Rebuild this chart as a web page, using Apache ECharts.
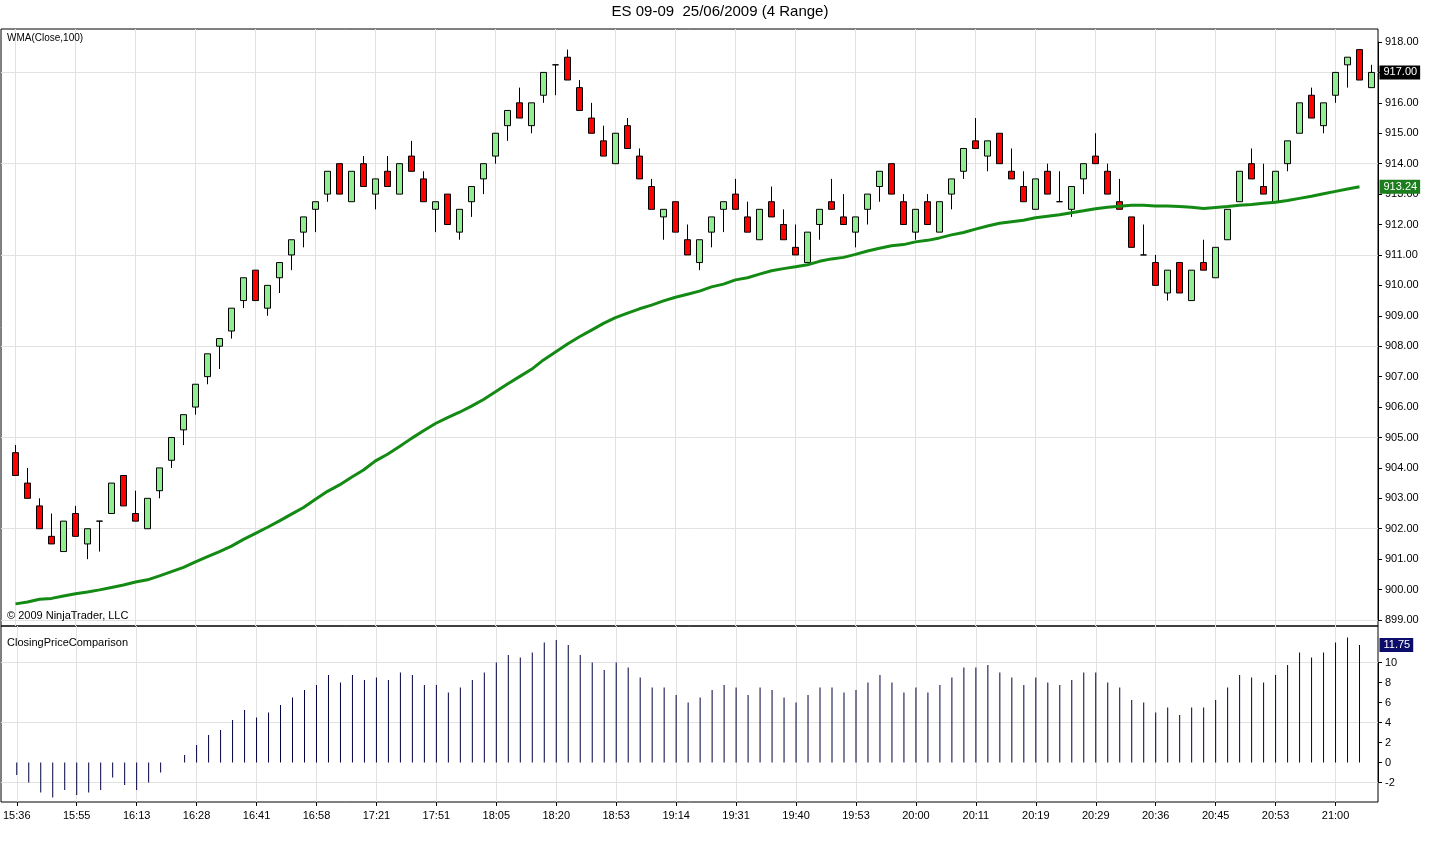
<!DOCTYPE html>
<html>
<head>
<meta charset="utf-8">
<script src="https://cdn.jsdelivr.net/npm/echarts@6/dist/echarts.min.js"></script>
<style>
html,body{margin:0;padding:0;background:#fff;}
#chart{width:1440px;height:846px;}
</style>
</head>
<body>
<div id="chart"></div>
<script>
// ---------------- DATA ----------------
const timeLabels = ['15:36','15:55','16:13','16:28','16:41','16:58','17:21','17:51','18:05','18:20','18:53','19:14','19:31','19:40','19:53','20:00','20:11','20:19','20:29','20:36','20:45','20:53','21:00'];

const opens = [
904.5,903.5,902.75,901.75,901.25,902.5,901.5,902.25,902.5,903.75,
902.5,902.0,903.25,904.25,905.25,906.0,907.0,908.0,908.5,909.5,
910.5,909.25,910.25,911.0,911.75,912.5,913.0,914.0,912.75,914.0,
913.0,913.75,913.0,914.25,913.5,912.5,913.0,911.75,912.75,913.5,
914.25,915.25,916.0,915.25,916.25,917.25,917.5,916.5,915.5,914.75,
914.0,915.25,914.25,913.25,912.25,912.75,911.5,910.75,911.75,912.5,
913.0,912.25,911.5,912.75,912.0,911.25,910.75,912.0,912.75,912.25,
911.75,912.5,913.25,914.0,912.75,911.75,912.75,911.75,913.0,913.75,
914.75,914.25,915.0,913.75,913.25,912.5,913.75,912.75,912.5,913.5,
914.25,913.75,912.75,912.25,911.0,910.75,909.75,910.75,909.5,910.75,
910.25,911.5,912.75,914.0,913.25,912.75,914.0,915.0,916.25,915.25,
916.25,917.25,917.75,916.5];

const highs = [
904.75,904.0,903.0,902.5,902.25,902.75,902.0,902.25,903.5,903.75,
903.25,903.0,904.0,905.0,905.75,906.75,907.75,908.25,909.25,910.25,
910.5,910.0,910.75,911.5,912.25,912.75,913.75,914.0,913.75,914.25,
913.5,914.25,914.0,914.75,913.75,912.75,913.0,912.5,913.25,914.0,
915.0,915.75,916.5,916.0,917.0,917.25,917.75,916.75,916.0,915.25,
915.0,915.5,914.5,913.5,912.5,912.75,912.0,911.5,912.25,912.75,
913.5,912.75,912.5,913.25,912.5,912.0,911.75,912.5,913.5,913.0,
912.25,913.0,913.75,914.0,913.0,912.5,913.0,912.75,913.5,914.5,
915.5,914.75,915.0,914.5,913.75,913.5,914.0,913.75,913.25,914.0,
915.0,914.0,913.5,912.25,912.0,911.0,910.5,910.75,910.5,911.5,
911.25,912.5,913.75,914.5,914.0,913.75,914.75,916.0,916.5,916.0,
917.0,917.5,917.75,917.25];

const lows = [
903.75,903.0,902.0,901.5,901.25,901.75,901.0,901.25,902.5,902.75,
902.25,902.0,903.0,904.0,904.75,905.75,906.75,907.25,908.25,909.25,
909.5,909.0,909.75,910.5,911.25,911.75,912.75,913.0,912.75,913.25,
912.5,913.25,913.0,913.75,912.75,911.75,912.0,911.5,912.25,913.0,
914.0,914.75,915.5,915.0,916.0,916.25,916.75,915.75,915.0,914.25,
914.0,914.5,913.5,912.5,911.5,911.75,911.0,910.5,911.25,911.75,
912.5,911.75,911.5,912.25,911.5,911.0,910.75,911.5,912.5,912.0,
911.25,912.0,912.75,913.0,912.0,911.5,912.0,911.75,912.5,913.5,
914.5,913.75,914.0,913.5,912.75,912.5,913.0,912.75,912.25,913.0,
914.0,913.0,912.5,911.25,911.0,910.0,909.5,909.75,909.5,910.5,
910.25,911.5,912.75,913.5,913.0,912.75,913.75,915.0,915.5,915.0,
916.0,916.5,916.75,916.5];

const closes = [
903.75,903.0,902.0,901.5,902.25,901.75,902.0,902.25,903.5,902.75,
902.25,903.0,904.0,905.0,905.75,906.75,907.75,908.25,909.25,910.25,
909.5,910.0,910.75,911.5,912.25,912.75,913.75,913.0,913.75,913.25,
913.5,913.25,914.0,913.75,912.75,912.75,912.0,912.5,913.25,914.0,
915.0,915.75,915.5,916.0,917.0,917.25,916.75,915.75,915.0,914.25,
915.0,914.5,913.5,912.5,912.5,911.75,911.0,911.5,912.25,912.75,
912.5,911.75,912.5,912.25,911.5,911.0,911.75,912.5,912.5,912.0,
912.25,913.0,913.75,913.0,912.0,912.5,912.0,912.75,913.5,914.5,
914.5,914.75,914.0,913.5,912.75,913.5,913.0,912.75,913.25,914.0,
914.0,913.0,912.5,911.25,911.0,910.0,910.5,909.75,910.5,910.5,
911.25,912.5,913.75,913.5,913.0,913.75,914.75,916.0,915.5,916.0,
917.0,917.5,916.75,917.0];

const wma = [
899.53,899.59,899.68,899.71,899.79,899.86,899.92,899.99,900.07,900.15,
900.25,900.32,900.45,900.59,900.73,900.91,901.08,901.25,901.43,901.65,
901.85,902.05,902.26,902.48,902.70,902.97,903.23,903.44,903.69,903.93,
904.23,904.45,904.70,904.97,905.22,905.46,905.65,905.83,906.03,906.25,
906.50,906.76,907.00,907.24,907.55,907.81,908.07,908.31,908.53,908.75,
908.94,909.09,909.23,909.35,909.49,909.61,909.71,909.81,909.95,910.04,
910.18,910.25,910.37,910.48,910.55,910.61,910.68,910.79,910.87,910.92,
911.02,911.13,911.22,911.30,911.34,911.43,911.48,911.56,911.66,911.74,
911.85,911.95,912.04,912.09,912.14,912.22,912.27,912.32,912.39,912.45,
912.52,912.57,912.60,912.63,912.63,912.61,912.61,912.59,912.57,912.53,
912.56,912.59,912.63,912.66,912.70,912.73,912.79,912.86,912.93,913.01,
913.09,913.17,913.24,null];

const closingPriceComparison = [
-1.25,-2,-3,-3.5,-2.75,-3.25,-3,-2.75,-1.5,-2.25,
-2.75,-2,-1,0,0.75,1.75,2.75,3.25,4.25,5.25,
4.5,5,5.75,6.5,7.25,7.75,8.75,8,8.75,8.25,
8.5,8.25,9,8.75,7.75,7.75,7,7.5,8.25,9,
10,10.75,10.5,11,12,12.25,11.75,10.75,10,9.25,
10,9.5,8.5,7.5,7.5,6.75,6,6.5,7.25,7.75,
7.5,6.75,7.5,7.25,6.5,6,6.75,7.5,7.5,7,
7.25,8,8.75,8,7,7.5,7,7.75,8.5,9.5,
9.5,9.75,9,8.5,7.75,8.5,8,7.75,8.25,9,
9,8,7.5,6.25,6,5,5.5,4.75,5.5,5.5,
6.25,7.5,8.75,8.5,8,8.75,9.75,11,10.5,11,
12,12.5,11.75,null];

// ---------------- BUILD ----------------
const N = closes.length;
const categories = closes.map((_, i) => String(i + 1));
const candleData = closes.map((c, i) => [opens[i], c, lows[i], highs[i]]);
const lastClose = closes[N - 1];
const lastWma = wma.filter(v => v != null).pop();
const lastCpc = closingPriceComparison.filter(v => v != null).pop();

const FONT = '"Liberation Sans", Arial, sans-serif';
const GRID_COLOR = '#e2e2e2';

// layout (pixels)
const frameL = 1, frameR = 62;
const dataL = 15.5, dataR = 68.5;
const topPanel = {top: 29, bottom: 626};
const priceBox = {top: 42, bottom: 620};
const priceMin = 899, priceMax = 918;
const ppp = (priceBox.bottom - priceBox.top) / (priceMax - priceMin);
const topDataMin = priceMin - (topPanel.bottom - priceBox.bottom) / ppp;
const topDataMax = priceMax + (priceBox.top - topPanel.top) / ppp;

const botPanel = {top: 626, bottom: 802};
const cpcBox = {top: 662.5, bottom: 782.5};
const cpcMin = -2, cpcMax = 10;
const cpp = (cpcBox.bottom - cpcBox.top) / (cpcMax - cpcMin);
const botDataMin = cpcMin - (botPanel.bottom - cpcBox.bottom) / cpp;
const botDataMax = cpcMax + (cpcBox.top - botPanel.top) / cpp;

const hidden = (g) => ({gridIndex: g, type: 'value', show: false, min: 1, max: 2,
  axisLine: {show: false, onZero: false}, axisTick: {show: false}, axisLabel: {show: false}, splitLine: {show: false}});
const txt = {fontFamily: FONT, color: '#000', fontSize: 11};

function tagLine(value, bg) {
  return {
    silent: true,
    symbol: 'none',
    animation: false,
    lineStyle: {color: 'rgba(0,0,0,0)', width: 1, type: 'solid'},
    label: {
      show: true, position: 'end', distance: 8,
      formatter: p => Number(p.value).toFixed(2),
      color: '#fff', backgroundColor: bg, padding: [2, 3, 1, 4],
      fontSize: 11, fontFamily: FONT
    },
    data: [{yAxis: value}]
  };
}

const option = {
  animation: false,
  backgroundColor: '#fff',
  title: [
    {text: 'ES 09-09  25/06/2009 (4 Range)', left: 'center', top: 4, padding: 0,
     textStyle: {fontFamily: FONT, fontSize: 15, fontWeight: 'normal', color: '#000'}},
    {text: 'WMA(Close,100)', left: 7, top: 33, padding: 0,
     textStyle: {fontFamily: FONT, fontSize: 10, fontWeight: 'normal', color: '#000'}},
    {text: '© 2009 NinjaTrader, LLC', left: 7, top: 610, padding: 0,
     textStyle: {fontFamily: FONT, fontSize: 11, fontWeight: 'normal', color: '#000'}},
    {text: 'ClosingPriceComparison', left: 7, top: 637, padding: 0,
     textStyle: {fontFamily: FONT, fontSize: 11, fontWeight: 'normal', color: '#000'}}
  ],
  grid: [
    {left: frameL, right: frameR, top: topPanel.top, height: topPanel.bottom - topPanel.top,
     show: true, borderColor: '#000', borderWidth: 1, backgroundColor: 'rgba(0,0,0,0)'},
    {left: frameL, right: frameR, top: priceBox.top, height: priceBox.bottom - priceBox.top},
    {left: dataL, right: dataR, top: topPanel.top, height: topPanel.bottom - topPanel.top},
    {left: frameL, right: frameR, top: botPanel.top, height: botPanel.bottom - botPanel.top,
     show: true, borderColor: '#000', borderWidth: 1, backgroundColor: 'rgba(0,0,0,0)'},
    {left: frameL, right: frameR, top: cpcBox.top, height: cpcBox.bottom - cpcBox.top},
    {left: dataL, right: dataR, top: botPanel.top, height: botPanel.bottom - botPanel.top}
  ],
  xAxis: [
    hidden(0),
    hidden(1),
    {gridIndex: 2, type: 'category', data: categories, boundaryGap: false,
     axisLine: {show: false, onZero: false}, axisTick: {show: false}, axisLabel: {show: false},
     splitLine: {show: true, interval: 4, lineStyle: {color: GRID_COLOR, width: 1}}},
    hidden(3),
    hidden(4),
    {gridIndex: 5, type: 'category', data: categories, boundaryGap: false, position: 'bottom',
     axisLine: {show: false, onZero: false},
     axisTick: {show: true, interval: 4, length: 4, inside: false, lineStyle: {color: '#000'}},
     axisLabel: Object.assign({show: true, interval: 4, margin: 8,
       formatter: (v, i) => (i % 5 === 0 ? timeLabels[i / 5] : '')}, txt),
     splitLine: {show: true, interval: 4, lineStyle: {color: GRID_COLOR, width: 1}}}
  ],
  yAxis: [
    hidden(0),
    {gridIndex: 1, type: 'value', position: 'right', min: priceMin, max: priceMax, interval: 1,
     axisLine: {show: true, onZero: false, lineStyle: {color: '#000'}},
     axisTick: {show: true, length: 4, inside: false, lineStyle: {color: '#000'}},
     axisLabel: Object.assign({show: true, margin: 7, formatter: v => v.toFixed(2)}, txt),
     splitLine: {show: false}},
    {gridIndex: 1, type: 'value', position: 'left', min: priceMin, max: priceMax, interval: 3,
     axisLine: {show: false, onZero: false}, axisTick: {show: false}, axisLabel: {show: false},
     splitLine: {show: true, showMaxLine: false, lineStyle: {color: GRID_COLOR, width: 1}}},
    {gridIndex: 2, type: 'value', show: false, min: topDataMin, max: topDataMax,
     axisLine: {show: false, onZero: false}, splitLine: {show: false}},
    hidden(3),
    {gridIndex: 4, type: 'value', position: 'right', min: cpcMin, max: cpcMax, interval: 2,
     axisLine: {show: true, onZero: false, lineStyle: {color: '#000'}},
     axisTick: {show: true, length: 4, inside: false, lineStyle: {color: '#000'}},
     axisLabel: Object.assign({show: true, margin: 7, formatter: v => String(v)}, txt),
     splitLine: {show: false}},
    {gridIndex: 4, type: 'value', position: 'left', min: cpcMin, max: cpcMax, interval: 6,
     axisLine: {show: false, onZero: false}, axisTick: {show: false}, axisLabel: {show: false},
     splitLine: {show: true, lineStyle: {color: GRID_COLOR, width: 1}}},
    {gridIndex: 5, type: 'value', show: false, min: botDataMin, max: botDataMax,
     axisLine: {show: false, onZero: false}, splitLine: {show: false}}
  ],
  series: [
    {
      name: 'ES 09-09', type: 'candlestick', xAxisIndex: 2, yAxisIndex: 3,
      data: candleData, barWidth: 6, clip: false,
      itemStyle: {color: '#90ee90', color0: '#ff0000', borderColor: '#000', borderColor0: '#000', borderWidth: 1},
      markLine: tagLine(lastClose, '#000')
    },
    {
      name: 'WMA(Close,100)', type: 'line', xAxisIndex: 2, yAxisIndex: 3,
      data: wma, symbol: 'none', showSymbol: false, smooth: false, connectNulls: false,
      lineStyle: {color: '#138a13', width: 3}, z: 3,
      markLine: tagLine(lastWma, '#1b7d1b')
    },
    {
      name: 'ClosingPriceComparison', type: 'bar', xAxisIndex: 5, yAxisIndex: 7,
      data: closingPriceComparison, barWidth: 1, clip: false,
      itemStyle: {color: '#000040'},
      markLine: tagLine(lastCpc, '#0c0c6a')
    }
  ]
};

const chart = echarts.init(document.getElementById('chart'));
chart.setOption(option);
</script>
</body>
</html>
